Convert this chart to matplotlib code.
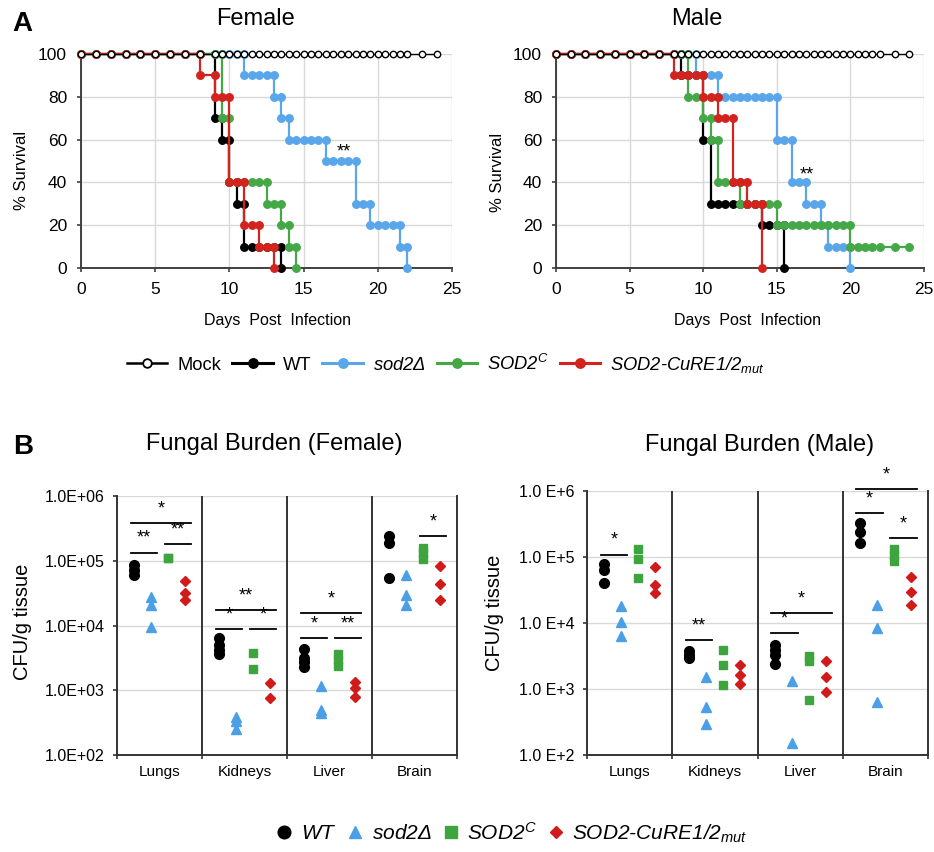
import matplotlib
matplotlib.use('Agg')
import matplotlib.pyplot as plt
from matplotlib.lines import Line2D
from matplotlib.ticker import NullLocator

plt.rcParams['font.family'] = ['Liberation Sans', 'DejaVu Sans']
plt.rcParams['mathtext.fontset'] = 'custom'
plt.rcParams['mathtext.rm'] = 'Liberation Sans:italic'
plt.rcParams['mathtext.it'] = 'Liberation Sans:italic'
plt.rcParams['mathtext.bf'] = 'Liberation Sans:bold'

# ---------------- Survival data (percent survival at each observed day) ----------------
female_days = [0, 1, 2, 3, 4, 5, 6, 7, 8, 9, 9.5, 10, 10.5, 11, 11.5, 12, 12.5, 13, 13.5,
               14, 14.5, 15, 15.5, 16, 16.5, 17, 17.5, 18, 18.5, 19, 19.5, 20, 20.5, 21,
               21.5, 22, 23, 24]
female_mock = [100, 100, 100, 100, 100, 100, 100, 100, 100, 100, 100, 100, 100, 100, 100,
               100, 100, 100, 100, 100, 100, 100, 100, 100, 100, 100, 100, 100, 100, 100,
               100, 100, 100, 100, 100, 100, 100, 100]
female_wt = [100, 100, 100, 100, 100, 100, 100, 100, 100, 70, 60, 40, 30, 10, 10, 10, 10, 10, 0]
female_sod2 = [100, 100, 100, 100, 100, 100, 100, 100, 100, 100, 100, 100, 100, 90, 90, 90, 90,
               80, 70, 60, 60, 60, 60, 60, 50, 50, 50, 50, 30, 30, 20, 20, 20, 20, 10, 0]
female_sod2c = [100, 100, 100, 100, 100, 100, 100, 100, 100, 100, 70, 40, 40, 40, 40, 40, 30,
                30, 20, 10, 0]
female_cure = [100, 100, 100, 100, 100, 100, 100, 100, 90, 80, 80, 40, 40, 20, 20, 10, 10, 0]

male_days = [0, 1, 2, 3, 4, 5, 6, 7, 8, 8.5, 9, 9.5, 10, 10.5, 11, 11.5, 12, 12.5, 13, 13.5,
             14, 14.5, 15, 15.5, 16, 16.5, 17, 17.5, 18, 18.5, 19, 19.5, 20, 20.5, 21, 21.5,
             22, 23, 24]
male_mock = [100, 100, 100, 100, 100, 100, 100, 100, 100, 100, 100, 100, 100, 100, 100, 100,
             100, 100, 100, 100, 100, 100, 100, 100, 100, 100, 100, 100, 100, 100, 100, 100,
             100, 100, 100, 100, 100, 100, 100]
male_wt = [100, 100, 100, 100, 100, 100, 100, 100, 100, 90, 90, 90, 60, 30, 30, 30, 30, 30,
           30, 30, 20, 20, 20, 0]
male_sod2 = [100, 100, 100, 100, 100, 100, 100, 100, 100, 100, 100, 90, 90, 90, 80, 80, 80,
             80, 80, 80, 80, 80, 60, 60, 40, 40, 30, 30, 20, 10, 10, 10, 0]
male_sod2c = [100, 100, 100, 100, 100, 100, 100, 100, 100, 100, 80, 80, 70, 60, 40, 40, 40,
              30, 30, 30, 30, 30, 20, 20, 20, 20, 20, 20, 20, 20, 20, 20, 10, 10, 10, 10, 10,
              10, 10]
male_cure = [100, 100, 100, 100, 100, 100, 100, 100, 90, 90, 90, 90, 80, 80, 70, 70, 40, 40,
             30, 30, 0]

# ---------------- Fungal burden data (CFU/g tissue), per tissue ----------------
tissues = ['Lungs', 'Kidneys', 'Liver', 'Brain']
female_wt_cfu = [[8.6e4, 7.3e4, 6.0e4], [6.3e3, 5.0e3, 4.2e3, 3.6e3],
                 [4.3e3, 3.2e3, 2.7e3, 2.3e3], [2.4e5, 1.9e5, 5.5e4]]
female_sod2_cfu = [[2.8e4, 2.1e4, 9.5e3], [380, 340, 255], [1.15e3, 500, 440],
                   [6.1e4, 3.0e4, 2.1e4]]
female_sod2c_cfu = [[1.12e5, 1.1e5], [3.8e3, 2.1e3], [3.6e3, 2.9e3, 2.35e3],
                    [1.58e5, 1.3e5, 1.05e5]]
female_cure_cfu = [[4.9e4, 3.2e4, 2.5e4], [1.3e3, 750], [1.35e3, 1.07e3, 790],
                   [8.4e4, 4.4e4, 2.5e4]]

male_wt_cfu = [[7.7e4, 6.4e4, 4.0e4], [3.7e3, 3.3e3, 2.95e3],
               [4.7e3, 3.9e3, 3.3e3, 2.4e3], [3.3e5, 2.4e5, 1.63e5]]
male_sod2_cfu = [[1.8e4, 1.04e4, 6.3e3], [1.5e3, 530, 300], [1.3e3, 150],
                 [1.9e4, 8.3e3, 640]]
male_sod2c_cfu = [[1.31e5, 9.3e4, 4.8e4], [3.9e3, 2.3e3, 1.15e3], [3.2e3, 2.7e3, 690],
                  [1.34e5, 1.06e5, 8.7e4]]
male_cure_cfu = [[7.0e4, 3.8e4, 2.8e4], [2.34e3, 1.65e3, 1.2e3], [2.7e3, 1.52e3, 900],
                 [4.9e4, 2.9e4, 1.9e4]]

# significance: (tissue index, group a, group b, bracket level, stars)
female_sig = [(0, 0, 1, 1.34e5, '**'), (0, 2, 3, 1.84e5, '**'), (0, 0, 3, 3.85e5, '*'),
              (1, 0, 1, 8.8e3, '*'), (1, 2, 3, 8.8e3, '*'), (1, 0, 3, 1.76e4, '**'),
              (2, 0, 1, 6.4e3, '*'), (2, 2, 3, 6.4e3, '**'), (2, 0, 3, 1.55e4, '*'),
              (3, 2, 3, 2.4e5, '*')]
male_sig = [(0, 0, 1, 1.09e5, '*'), (1, 0, 1, 5.6e3, '**'), (2, 0, 1, 7.0e3, '*'),
            (2, 0, 3, 1.4e4, '*'), (3, 0, 1, 4.57e5, '*'), (3, 2, 3, 1.95e5, '*'),
            (3, 0, 3, 1.06e6, '*')]

female_yticklabels = ['1.0E+02', '1.0E+03', '1.0E+04', '1.0E+05', '1.0E+06']
male_yticklabels = ['1.0 E+2', '1.0 E+3', '1.0 E+4', '1.0 E+5', '1.0 E+6']

# ---------------- style ----------------
BLUE = '#5AA6EA'
GREEN = '#45A847'
RED = '#D3231E'
BLUE_B = '#4A9FE6'
GREEN_B = '#3EA43E'
RED_B = '#D11A1A'
GRID = '#d9d9d9'
SPINE = '#404040'

W, H = 934, 852
fig = plt.figure(figsize=(W / 100, H / 100), dpi=100)


def rect(l, t, r, b):
    return [l / W, 1 - b / H, (r - l) / W, (b - t) / H]


def ftext(px, py, s, **kw):
    fig.text(px / W, 1 - py / H, s, ha='center', va='center', **kw)


def excel_steps(days, surv):
    xs, ys = [days[0]], [surv[0]]
    for i in range(1, len(surv)):
        if surv[i] != surv[i - 1]:
            xs.append(days[i])
            ys.append(surv[i - 1])
        xs.append(days[i])
        ys.append(surv[i])
    return xs, ys


def survival_axes(r, days, mock, wt, sod2, sod2c, cure, star_xy):
    ax = fig.add_axes(r)
    ax.set_xlim(0, 25)
    ax.set_ylim(0, 100)
    ax.set_xticks([0, 5, 10, 15, 20, 25])
    ax.set_yticks([0, 20, 40, 60, 80, 100])
    ax.grid(True, color=GRID, lw=1.0)
    ax.set_axisbelow(True)
    for s in ['top', 'right']:
        ax.spines[s].set_visible(False)
    for s in ['left', 'bottom']:
        ax.spines[s].set_color(SPINE)
        ax.spines[s].set_linewidth(1.4)
    ax.tick_params(length=3, width=1.2, color=SPINE, pad=7, labelsize=12.5)
    for vals, col in [(wt, 'black'), (sod2, BLUE), (sod2c, GREEN), (cure, RED)]:
        xs, ys = excel_steps(days[:len(vals)], vals)
        ax.plot(xs, ys, color=col, lw=1.6, marker='o', ms=5.4, mec=col, mfc=col,
                clip_on=False, zorder=3)
    xs, ys = excel_steps(days[:len(mock)], mock)
    ax.plot(xs, ys, color='black', lw=1.0, marker='o', ms=4.6, mfc='white', mec='black',
            mew=1.0, clip_on=False, zorder=5)
    ax.text(star_xy[0], star_xy[1], '**', ha='center', va='center', fontsize=13)
    return ax


survival_axes(rect(81, 54, 452, 268), female_days, female_mock, female_wt, female_sod2,
              female_sod2c, female_cure, (17.7, 54))
survival_axes(rect(556, 54, 924, 268), male_days, male_mock, male_wt, male_sod2,
              male_sod2c, male_cure, (17.05, 43.5))

ftext(22, 24, 'A', fontsize=20, fontweight='bold')
ftext(255, 19, 'Female', fontsize=17)
ftext(697, 19, 'Male', fontsize=17)
ftext(22, 170, '% Survival', fontsize=12, rotation=90)
ftext(497, 172, '% Survival', fontsize=12, rotation=90)
ftext(278, 320, 'Days  Post  Infection', fontsize=11.5)
ftext(748, 321, 'Days  Post  Infection', fontsize=11.5)

# top legend
leg_handles = [
    Line2D([], [], color='black', lw=1.8, marker='o', ms=6.2, mfc='white', mec='black', mew=1.3),
    Line2D([], [], color='black', lw=2.2, marker='o', ms=6.8, mfc='black', mec='black'),
    Line2D([], [], color=BLUE, lw=2.2, marker='o', ms=6.8, mfc=BLUE, mec=BLUE),
    Line2D([], [], color=GREEN, lw=2.2, marker='o', ms=6.8, mfc=GREEN, mec=GREEN),
    Line2D([], [], color=RED, lw=2.2, marker='o', ms=6.8, mfc=RED, mec=RED),
]
leg_labels = ['Mock', 'WT', r'$sod2Δ$', r'$SOD2^{C}$', r'$SOD2\text{-}CuRE1/2_{mut}$']
fig.legend(leg_handles, leg_labels, loc='center', bbox_to_anchor=(446 / W, 1 - 364 / H),
           ncol=5, frameon=False, fontsize=13.2, handlelength=2.2, handletextpad=0.55,
           columnspacing=0.6, borderpad=0)

# ---------------- Fungal burden ----------------
offsets = [-0.3, -0.1, 0.1, 0.3]
styles = [('o', 'black', 7.0), ('^', BLUE_B, 7.0), ('s', GREEN_B, 6.3), ('D', RED_B, 4.9)]


def burden_axes(r, groups, sig, yticklabels):
    ax = fig.add_axes(r)
    ax.set_yscale('log')
    ax.set_ylim(1e2, 1e6)
    ax.set_xlim(0, 4)
    ax.set_yticks([1e2, 1e3, 1e4, 1e5, 1e6])
    ax.set_yticklabels(yticklabels)
    ax.yaxis.set_minor_locator(NullLocator())
    ax.set_xticks([0, 1, 2, 3, 4])
    ax.set_xticklabels([])
    ax.set_xticks([0.5, 1.5, 2.5, 3.5], minor=True)
    ax.set_xticklabels(tissues, minor=True)
    ax.tick_params(axis='x', which='minor', length=0, pad=7, labelsize=11)
    ax.tick_params(axis='both', which='major', length=3, width=1.2, color='#333333',
                   labelsize=11.5, pad=6)
    ax.grid(axis='y', which='major', color=GRID, lw=1.0)
    ax.set_axisbelow(True)
    ax.spines['top'].set_visible(False)
    for s in ['left', 'bottom', 'right']:
        ax.spines[s].set_color('#333333')
        ax.spines[s].set_linewidth(1.4)
    for xv in [1, 2, 3]:
        ax.axvline(xv, color='#333333', lw=1.4, zorder=2)
    for g, data in enumerate(groups):
        mk, col, ms = styles[g]
        for t, vals in enumerate(data):
            ax.plot([t + 0.5 + offsets[g]] * len(vals), vals, linestyle='none', marker=mk,
                    ms=ms, mfc=col, mec=col, zorder=4)
    for t, a, b, level, stars in sig:
        x0 = t + 0.5 + offsets[a] - 0.04
        x1 = t + 0.5 + offsets[b] + 0.07
        ax.plot([x0, x1], [level, level], color='black', lw=1.3, clip_on=False, zorder=5)
        ax.annotate(stars, ((x0 + x1) / 2, level), xytext=(0, 4), textcoords='offset points',
                    ha='center', va='bottom', fontsize=13, annotation_clip=False)
    return ax


burden_axes(rect(117, 496, 457, 755),
            [female_wt_cfu, female_sod2_cfu, female_sod2c_cfu, female_cure_cfu],
            female_sig, female_yticklabels)
burden_axes(rect(587, 491, 928, 755),
            [male_wt_cfu, male_sod2_cfu, male_sod2c_cfu, male_cure_cfu],
            male_sig, male_yticklabels)

ftext(23, 447, 'B', fontsize=20, fontweight='bold')
ftext(274, 444, 'Fungal Burden (Female)', fontsize=17)
ftext(760, 445, 'Fungal Burden (Male)', fontsize=17)
ftext(23, 622, 'CFU/g tissue', fontsize=14.5, rotation=90)
ftext(495, 613, 'CFU/g tissue', fontsize=14.5, rotation=90)

# bottom legend
b_handles = [Line2D([], [], linestyle='none', marker=mk, ms=ms * 1.3, mfc=col, mec=col)
             for mk, col, ms in styles]
b_labels = [r'$WT$', r'$sod2Δ$', r'$SOD2^{C}$', r'$SOD2\text{-}CuRE1/2_{mut}$']
fig.legend(b_handles, b_labels, loc='center', bbox_to_anchor=(512 / W, 1 - 833 / H),
           ncol=4, frameon=False, fontsize=15, handlelength=0.8, handletextpad=0.4,
           columnspacing=0.5, borderpad=0)

fig.savefig('out.png', dpi=100)
